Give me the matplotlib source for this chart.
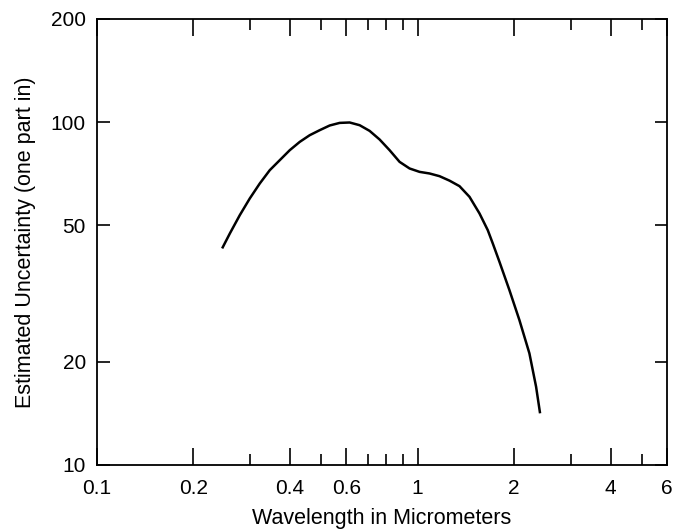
import numpy as np
import matplotlib
matplotlib.use("Agg")
import matplotlib.pyplot as plt
from matplotlib.ticker import FixedLocator, NullFormatter

plt.rcParams['font.family'] = ['Liberation Sans', 'DejaVu Sans']

# valeurs (longueur d'onde en micrometres, incertitude "one part in")
longueur_onde = [0.2457, 0.2597, 0.2789, 0.2997, 0.3220, 0.3459, 0.3717, 0.3993,
                 0.4290, 0.4609, 0.4951, 0.5320, 0.5715, 0.6140, 0.6597, 0.7087,
                 0.7614, 0.8180, 0.8789, 0.9443, 1.0145, 1.0899, 1.1708, 1.2580,
                 1.3515, 1.4521, 1.5603, 1.6558, 1.7164, 1.8009, 1.9345, 2.0784,
                 2.2331, 2.3428, 2.4110]
incertitude = [42.83, 47.37, 53.56, 59.93, 66.27, 72.45, 77.49, 82.86,
               87.61, 91.64, 94.77, 97.81, 99.53, 99.80, 98.00, 94.33,
               89.03, 82.86, 76.61, 73.28, 71.63, 70.86, 69.59, 67.53,
               65.08, 60.58, 54.18, 48.43, 44.30, 39.15, 32.37, 26.47,
               21.17, 16.92, 14.15]

x_majeurs = [0.1, 0.2, 0.4, 0.6, 1, 2, 4, 6]
x_labels = ["0.1", "0.2", "0.4", "0.6", "1", "2", "4", "6"]
x_mineurs = [0.3, 0.5, 0.7, 0.8, 0.9, 3, 5]
y_majeurs = [10, 20, 50, 100, 200]
y_labels = ["10", "20", "50", "100", "200"]

fig = plt.figure(figsize=(6.73, 5.32), dpi=100)
ax = fig.add_axes([97 / 673, 1 - 465 / 532, 570 / 673, 446 / 532])

ax.plot(longueur_onde, incertitude, color="black", lw=1.8,
        solid_joinstyle="round", solid_capstyle="butt")

ax.set_xscale("log")
ax.set_yscale("log")
ax.set_xlim(0.1, 6)
ax.set_ylim(10, 200)

ax.xaxis.set_major_locator(FixedLocator(x_majeurs))
ax.set_xticklabels(x_labels)
ax.xaxis.set_minor_locator(FixedLocator(x_mineurs))
ax.xaxis.set_minor_formatter(NullFormatter())
ax.yaxis.set_major_locator(FixedLocator(y_majeurs))
ax.set_yticklabels(y_labels)
ax.yaxis.set_minor_locator(FixedLocator([]))

ax.tick_params(axis="x", which="major", direction="in", length=12, width=1.2,
               top=True, bottom=True, labelsize=15, pad=10)
ax.tick_params(axis="x", which="minor", direction="in", length=8, width=1.2,
               top=True, bottom=True)
ax.tick_params(axis="y", which="major", direction="in", length=9, width=1.2,
               left=True, right=True, labelsize=15, pad=8)

for sp in ax.spines.values():
    sp.set_linewidth(1.3)

ax.set_xlabel("Wavelength in Micrometers", fontsize=15.5, labelpad=7)
ax.set_ylabel("Estimated Uncertainty (one part in)", fontsize=15.5, labelpad=10.5)

fig.savefig("out.png", dpi=100)
